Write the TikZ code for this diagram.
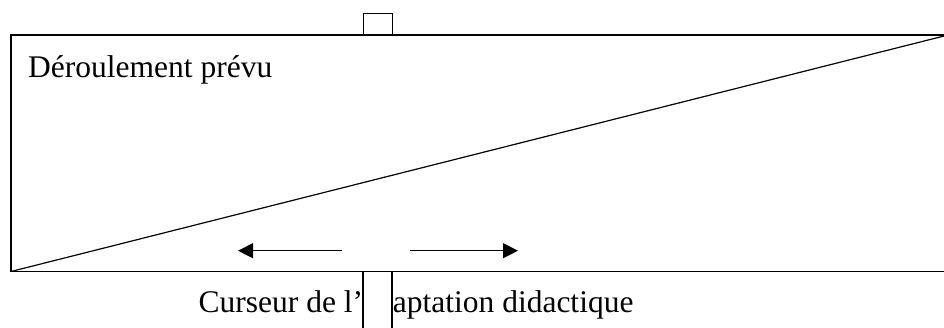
\documentclass[tikz,border=0pt]{standalone}
\usepackage{fontspec}
\setmainfont{Liberation Serif}
\usetikzlibrary{arrows.meta}
\tikzset{
  line/.style={draw=black, line width=1.2pt},
  lbl/.style={inner sep=0pt, anchor=base west, font=\fontsize{31.5}{36}\selectfont},
  arr/.style={line, -{Triangle[length=15pt,width=15pt]}},
}
\begin{document}
\begin{tikzpicture}[x=1pt,y=-1pt]
\useasboundingbox (0,0) rectangle (944,327);
\clip (0,0) rectangle (944,327);
% frame
\coordinate (bl) at (11,271.5);
\coordinate (tr) at (960,35);
\coordinate (tl) at (11,35);
\coordinate (br) at (960,271.5);
\coordinate (diagend) at (944,36);
\draw[line] (tr) -- (tl) -- (bl) -- (br);
\draw[line] (bl) -- (diagend);
\node[lbl] (title) at (28,77) {Déroulement prévu};
% caption
\node[lbl] (caption) at (198.5,312) {Curseur de l’adaptation didactique};
% cursor
\node[line, fill=white, minimum width=29pt, minimum height=21pt, inner sep=0pt, anchor=south west] (ctop) at (363,35) {};
\fill[white] (363.6,272.2) rectangle (391.4,330);
\coordinate (cl) at (363,271.5);
\coordinate (cr) at (392,271.5);
\coordinate (clb) at (363,330);
\coordinate (crb) at (392,330);
\draw[line] (cl) -- (clb);
\draw[line] (cr) -- (crb);
% arrows
\coordinate (la0) at (342,250.7);
\coordinate (la1) at (238,250.7);
\coordinate (ra0) at (410,250.7);
\coordinate (ra1) at (518,250.7);
\draw[arr] (la0) -- (la1);
\draw[arr] (ra0) -- (ra1);
\end{tikzpicture}
\end{document}
